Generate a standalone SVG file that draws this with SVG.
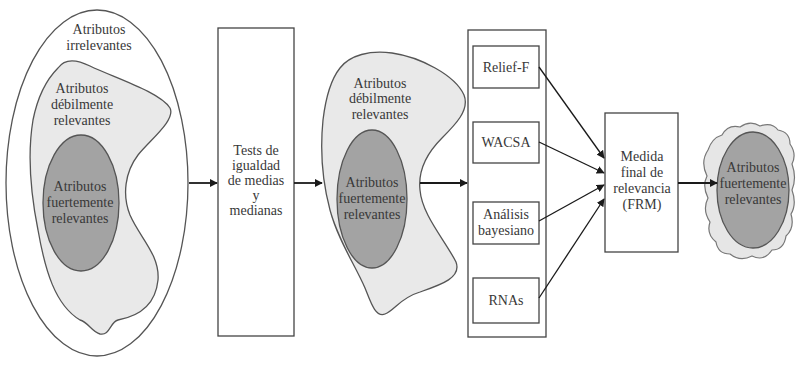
<svg xmlns="http://www.w3.org/2000/svg" width="796" height="382" viewBox="0 0 796 382">
<defs>
<style>
text{font-family:Liberation Serif,Times New Roman,DejaVu Serif,serif;font-size:14px;fill:#383838;text-anchor:middle}
.box{fill:#fff;stroke:#444;stroke-width:1.3}
.blob{fill:#e9e9e9;stroke:#555;stroke-width:1.3}
.core{fill:#a3a3a3;stroke:#555;stroke-width:1.3}
.conn{stroke:#1a1a1a;stroke-width:1.8;fill:none;marker-end:url(#ah)}
.thin{stroke:#1a1a1a;stroke-width:1.3;fill:none;marker-end:url(#ah)}
</style>
<marker id="ah" viewBox="0 0 10 10" refX="9" refY="5" markerWidth="8" markerHeight="8" markerUnits="userSpaceOnUse" orient="auto">
<path d="M0,0 L10,5 L0,10 z" fill="#1a1a1a"/>
</marker>
</defs>
<rect width="796" height="382" fill="#fff"/>
<g id="n1">
<ellipse cx="97" cy="183" rx="91" ry="173" fill="#fff" stroke="#555" stroke-width="1.3"/>
<text x="99" y="34">Atributos</text>
<text x="99" y="50">irrelevantes</text>
<path class="blob" d="M58 68 C65 58 78 60 90 66 C115 78 160 92 170 108 C176 120 150 140 138 155 C125 172 122 195 130 215 C140 238 160 255 158 280 C156 300 145 315 118 320 C110 322 110 336 100 334 C92 332 88 322 80 320 C55 305 45 270 38 230 C30 190 28 150 33 120 C38 95 48 78 58 68 Z"/>
<text x="82" y="93">Atributos</text>
<text x="82" y="109">débilmente</text>
<text x="82" y="125">relevantes</text>
<ellipse class="core" cx="81" cy="203" rx="38" ry="68"/>
<text x="80" y="191">Atributos</text>
<text x="80" y="207">fuertemente</text>
<text x="80" y="223">relevantes</text>
</g>

<g id="n2">
<rect class="box" x="218" y="28" width="76" height="308"/>
<text x="256" y="155">Tests de</text>
<text x="256" y="170">igualdad</text>
<text x="256" y="185">de medias</text>
<text x="256" y="200">y</text>
<text x="256" y="215">medianas</text>
</g>

<g id="n3">
<path class="blob" d="M340 68 C350 55 370 50 392 53 C420 57 455 75 464 95 C470 110 455 125 442 138 C425 155 418 172 420 190 C422 215 445 240 456 262 C462 278 440 285 420 292 C400 298 395 310 385 314 C375 318 370 300 365 288 C355 265 338 240 330 210 C322 180 320 150 323 120 C326 95 332 78 340 68 Z"/>
<text x="380" y="88">Atributos</text>
<text x="380" y="103">débilmente</text>
<text x="380" y="119">relevantes</text>
<ellipse class="core" cx="372" cy="199" rx="35" ry="69"/>
<text x="372" y="187">Atributos</text>
<text x="372" y="203">fuertemente</text>
<text x="372" y="219">relevantes</text>
</g>

<g id="n4">
<rect class="box" x="468" y="30" width="78" height="307"/>
</g>
<g id="n5">
<rect class="box" x="473" y="46" width="66" height="42"/>
<text x="506" y="72">Relief-F</text>
</g>
<g id="n6">
<rect class="box" x="473" y="122" width="66" height="41"/>
<text x="506" y="147">WACSA</text>
</g>
<g id="n7">
<rect class="box" x="473" y="202" width="66" height="42"/>
<text x="506" y="219">Análisis</text>
<text x="506" y="235">bayesiano</text>
</g>
<g id="n8">
<rect class="box" x="473" y="278" width="66" height="45"/>
<text x="506" y="305">RNAs</text>
</g>

<g id="n9">
<rect class="box" x="605" y="113" width="73" height="139"/>
<text x="642" y="161">Medida</text>
<text x="642" y="177">final de</text>
<text x="642" y="193">relevancia</text>
<text x="642" y="209">(FRM)</text>
</g>

<g id="n10">
<path d="M708 150 Q712 138 722 135 Q728 124 740 127 Q750 120 760 126 Q772 122 778 130 Q790 132 790 144 Q797 154 792 164 Q797 178 792 190 Q797 204 791 214 Q795 228 786 236 Q784 250 772 250 Q764 262 752 256 Q740 262 730 254 Q718 254 716 242 Q706 234 710 222 Q702 210 708 198 Q702 186 707 176 Q700 162 708 150 Z" fill="#e6e6e6" stroke="#777" stroke-width="1.2"/>
<ellipse class="core" cx="753" cy="190" rx="36" ry="58"/>
<text x="753" y="172">Atributos</text>
<text x="753" y="188">fuertemente</text>
<text x="753" y="204">relevantes</text>
</g>
<g id="connectors">
<line class="conn" x1="189" y1="183" x2="217" y2="183"/>
<line class="conn" x1="294" y1="183" x2="322" y2="183"/>
<line class="conn" x1="420" y1="183" x2="467" y2="183"/>
<line class="thin" x1="539" y1="67" x2="604" y2="158"/>
<line class="thin" x1="539" y1="142" x2="604" y2="173"/>
<line class="thin" x1="539" y1="221" x2="604" y2="185"/>
<line class="thin" x1="539" y1="298" x2="604" y2="199"/>
<line class="conn" x1="678" y1="183" x2="717" y2="183"/>
</g>
</svg>
